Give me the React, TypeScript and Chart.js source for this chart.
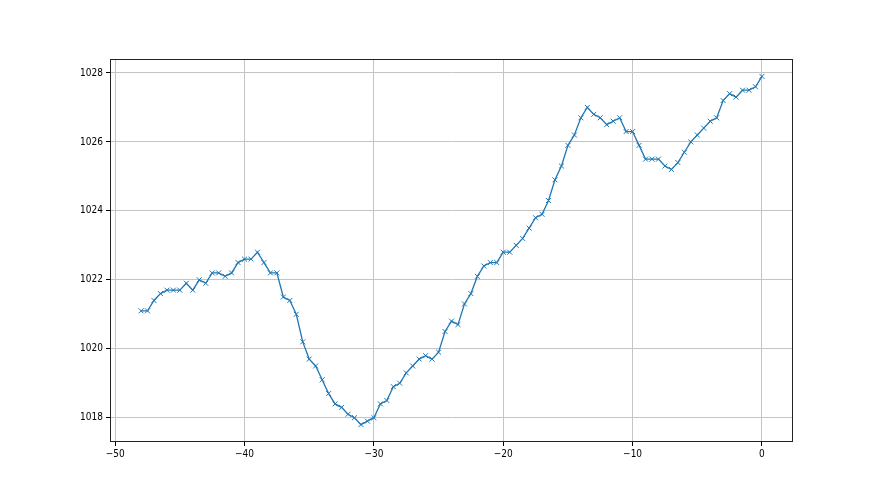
import React, { useEffect, useRef } from "react";
import { Chart, registerables } from "chart.js";

Chart.register(...registerables);

const xValues = [
  -48, -47.5, -47, -46.5, -46, -45.5, -45, -44.5, -44, -43.5, -43, -42.5, -42, -41.5, -41, -40.5,
  -40, -39.5, -39, -38.5, -38, -37.5, -37, -36.5, -36, -35.5, -35, -34.5, -34, -33.5, -33, -32.5,
  -32, -31.5, -31, -30.5, -30, -29.5, -29, -28.5, -28, -27.5, -27, -26.5, -26, -25.5, -25, -24.5,
  -24, -23.5, -23, -22.5, -22, -21.5, -21, -20.5, -20, -19.5, -19, -18.5, -18, -17.5, -17, -16.5,
  -16, -15.5, -15, -14.5, -14, -13.5, -13, -12.5, -12, -11.5, -11, -10.5, -10, -9.5, -9, -8.5,
  -8, -7.5, -7, -6.5, -6, -5.5, -5, -4.5, -4, -3.5, -3, -2.5, -2, -1.5, -1, -0.5, 0,
];

const pressure = [
  1021.1, 1021.1, 1021.4, 1021.6, 1021.7, 1021.7, 1021.7, 1021.9, 1021.7, 1022.0, 1021.9, 1022.2, 1022.2, 1022.1, 1022.2, 1022.5,
  1022.6, 1022.6, 1022.8, 1022.5, 1022.2, 1022.2, 1021.5, 1021.4, 1021.0, 1020.2, 1019.7, 1019.5, 1019.1, 1018.7, 1018.4, 1018.3,
  1018.1, 1018.0, 1017.8, 1017.9, 1018.0, 1018.4, 1018.5, 1018.9, 1019.0, 1019.3, 1019.5, 1019.7, 1019.8, 1019.7, 1019.9, 1020.5,
  1020.8, 1020.7, 1021.3, 1021.6, 1022.1, 1022.4, 1022.5, 1022.5, 1022.8, 1022.8, 1023.0, 1023.2, 1023.5, 1023.8, 1023.9, 1024.3,
  1024.9, 1025.3, 1025.9, 1026.2, 1026.7, 1027.0, 1026.8, 1026.7, 1026.5, 1026.6, 1026.7, 1026.3, 1026.3, 1025.9, 1025.5, 1025.5,
  1025.5, 1025.3, 1025.2, 1025.4, 1025.7, 1026.0, 1026.2, 1026.4, 1026.6, 1026.7, 1027.2, 1027.4, 1027.3, 1027.5, 1027.5, 1027.6, 1027.9,
];

const xTicks = [-50, -40, -30, -20, -10, 0];
const yTicks = [1018, 1020, 1022, 1024, 1026, 1028];

const FONT = '"Liberation Sans Narrow", "DejaVu Sans Condensed", "DejaVu Sans", sans-serif';

const fmt = (v: number) => (v < 0 ? "\u2212" + Math.abs(v) : String(v));

const framePlugin = {
  id: "frame",
  afterDraw(chart: any) {
    const { ctx, chartArea } = chart;
    ctx.save();
    ctx.strokeStyle = "#222";
    ctx.lineWidth = 1;
    ctx.strokeRect(
      Math.round(chartArea.left) + 0.5,
      Math.round(chartArea.top) + 0.5,
      Math.round(chartArea.right - chartArea.left) - 1,
      Math.round(chartArea.bottom - chartArea.top) - 1
    );
    ctx.restore();
  },
};

export default function App() {
  const ref = useRef<HTMLCanvasElement | null>(null);

  useEffect(() => {
    document.body.style.margin = "0";
    const canvas = ref.current;
    if (!canvas) return;
    const data = xValues.map((x, i) => ({ x, y: pressure[i] }));
    const chart = new Chart(canvas, {
      type: "scatter",
      data: {
        datasets: [
          {
            data,
            showLine: true,
            borderColor: "#1f77b4",
            borderWidth: 1.3,
            pointStyle: "crossRot",
            pointRadius: 3.5,
            pointBorderWidth: 1,
            pointBorderColor: "#1f77b4",
            pointBackgroundColor: "#1f77b4",
            tension: 0,
          },
        ],
      },
      options: {
        responsive: false,
        animation: false,
        devicePixelRatio: 1,
        layout: { padding: { left: 0, top: 59, right: 87, bottom: 0 } },
        plugins: { legend: { display: false }, tooltip: { enabled: false } },
        scales: {
          x: {
            type: "linear",
            min: -50.4,
            max: 2.4,
            afterBuildTicks: (s: any) => {
              s.ticks = xTicks.map((v) => ({ value: v }));
            },
            afterFit: (s: any) => {
              s.height = 53;
            },
            grid: { color: "#c4c4c4", lineWidth: 1, tickColor: "#000", tickLength: 4, drawTicks: true },
            border: { display: false },
            ticks: {
              color: "#000",
              font: { family: FONT, size: 10 },
              padding: 2,
              maxRotation: 0,
              autoSkip: false,
              callback: (v: any) => fmt(Number(v)),
            },
          },
          y: {
            type: "linear",
            min: 1017.295,
            max: 1028.405,
            afterBuildTicks: (s: any) => {
              s.ticks = yTicks.map((v) => ({ value: v }));
            },
            afterFit: (s: any) => {
              s.width = 110;
            },
            grid: { color: "#c4c4c4", lineWidth: 1, tickColor: "#000", tickLength: 4, drawTicks: true },
            border: { display: false },
            ticks: {
              color: "#000",
              font: { family: FONT, size: 10 },
              padding: 3,
              autoSkip: false,
              callback: (v: any) => fmt(Number(v)),
            },
          },
        },
      },
      plugins: [framePlugin],
    });
    return () => chart.destroy();
  }, []);

  return (
    <div style={{ width: 880, height: 495, background: "#fff" }}>
      <canvas ref={ref} width={880} height={495} style={{ display: "block", width: 880, height: 495 }} />
    </div>
  );
}
